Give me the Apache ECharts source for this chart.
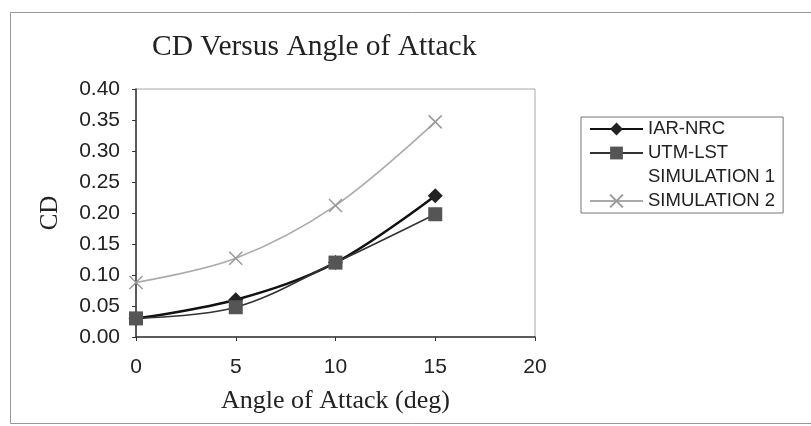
<!DOCTYPE html>
<html>
<head>
<meta charset="utf-8">
<script src="https://cdn.jsdelivr.net/npm/echarts@6/dist/echarts.min.js"></script>
<style>html,body{margin:0;padding:0;background:#fff}#c{width:811px;height:426px}</style>
</head>
<body>
<div id="c"></div>
<script>
const angles = [0, 5, 10, 15];
const iarNrc = [0.030, 0.060, 0.120, 0.228];
const utmLst = [0.030, 0.048, 0.120, 0.198];
const simulation1 = [];
const simulation2 = [0.088, 0.127, 0.212, 0.347];
const seriesNames = ['IAR-NRC', 'UTM-LST', 'SIMULATION 1', 'SIMULATION 2'];

const pair = arr => arr.map((v, i) => [angles[i], v]);
const sans = 'Liberation Sans, Arial, sans-serif';
const serif = 'Liberation Serif, Times New Roman, serif';
const crossPath = 'path://M0,0L10,10M10,0L0,10';

const chart = echarts.init(document.getElementById('c'), null, {renderer: 'canvas'});
chart.setOption({
  animation: false,
  backgroundColor: '#fff',
  title: {
    text: 'CD Versus Angle of Attack',
    left: 147, top: 27,
    textStyle: {fontFamily: serif, fontSize: 29.5, fontWeight: 'normal', color: '#222'}
  },
  graphic: [{
    type: 'rect', silent: true,
    shape: {x: 10.5, y: 12.5, width: 820, height: 411},
    style: {fill: 'none', stroke: '#999', lineWidth: 1}
  }],
  legend: {
    orient: 'vertical',
    left: 581, top: 117,
    padding: [2, 8, 2, 8],
    itemWidth: 53, itemHeight: 16, itemGap: 4,
    borderColor: '#777', borderWidth: 1,
    textStyle: {fontFamily: sans, fontSize: 18.5, color: '#222', lineHeight: 20},
    data: [
      {name: seriesNames[0]},
      {name: seriesNames[1]},
      {name: seriesNames[2], icon: 'none'},
      {name: seriesNames[3]}
    ]
  },
  grid: {left: 136, right: 276, top: 89, bottom: 89, show: true, borderColor: '#aaa', borderWidth: 1},
  xAxis: {
    type: 'value', min: 0, max: 20, interval: 5,
    name: 'Angle of Attack (deg)', nameLocation: 'middle', nameGap: 51,
    nameTextStyle: {fontFamily: serif, fontSize: 26, color: '#222'},
    axisLine: {show: true, onZero: false, lineStyle: {color: '#333', width: 1.5}},
    axisTick: {show: true, length: 4, lineStyle: {color: '#333'}},
    axisLabel: {fontFamily: sans, fontSize: 21, color: '#222', margin: 20},
    splitLine: {show: false}
  },
  yAxis: {
    type: 'value', min: 0, max: 0.4, interval: 0.05,
    name: 'CD', nameLocation: 'middle', nameGap: 73,
    nameTextStyle: {fontFamily: serif, fontSize: 25, color: '#222'},
    axisLine: {show: true, lineStyle: {color: '#333', width: 1.5}},
    axisTick: {show: true, length: 4, lineStyle: {color: '#333'}},
    axisLabel: {fontFamily: sans, fontSize: 21, color: '#222', margin: 16,
      formatter: v => v.toFixed(2)},
    splitLine: {show: false}
  },
  series: [
    {
      name: seriesNames[0], type: 'line', data: pair(iarNrc), smooth: 0.35,
      symbol: 'diamond', symbolSize: 15,
      lineStyle: {color: '#111', width: 2.5},
      itemStyle: {color: '#222'}
    },
    {
      name: seriesNames[1], type: 'line', data: pair(utmLst), smooth: 0.35,
      symbol: 'rect', symbolSize: 14,
      lineStyle: {color: '#333', width: 1.6},
      itemStyle: {color: '#555'}
    },
    {
      name: seriesNames[2], type: 'line', data: simulation1,
      symbol: 'none', lineStyle: {opacity: 0}, itemStyle: {color: '#fff'}
    },
    {
      name: seriesNames[3], type: 'line', data: pair(simulation2), smooth: 0.35,
      symbol: crossPath, symbolSize: 13,
      lineStyle: {color: '#aaa', width: 1.6},
      itemStyle: {color: 'none', borderColor: '#999', borderWidth: 1.5}
    }
  ]
});
</script>
</body>
</html>
